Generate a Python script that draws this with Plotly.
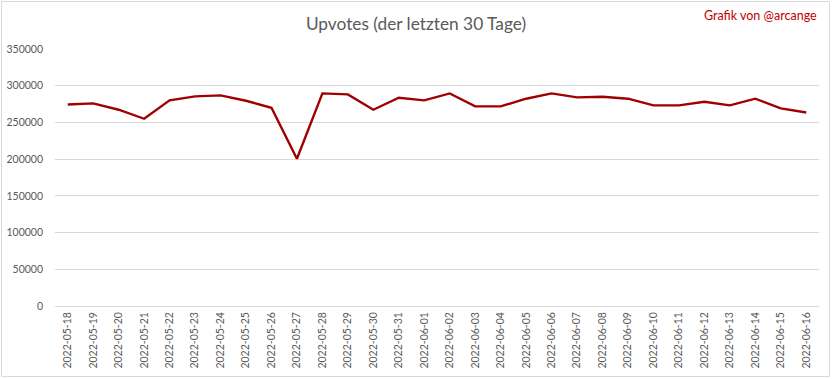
import plotly.graph_objects as go

dates = ["2022-05-18", "2022-05-19", "2022-05-20", "2022-05-21", "2022-05-22", "2022-05-23",
         "2022-05-24", "2022-05-25", "2022-05-26", "2022-05-27", "2022-05-28", "2022-05-29",
         "2022-05-30", "2022-05-31", "2022-06-01", "2022-06-02", "2022-06-03", "2022-06-04",
         "2022-06-05", "2022-06-06", "2022-06-07", "2022-06-08", "2022-06-09", "2022-06-10",
         "2022-06-11", "2022-06-12", "2022-06-13", "2022-06-14", "2022-06-15", "2022-06-16"]
upvotes = [274500, 275900, 267300, 255000, 280000, 285500,
           286800, 279500, 270000, 200500, 289500, 288200,
           267300, 283600, 280000, 289500, 271800, 271800,
           282300, 289500, 284100, 285000, 282300, 273200,
           273200, 278200, 273200, 282300, 269100, 263600]
y_ticks = [0, 50000, 100000, 150000, 200000, 250000, 300000, 350000]

W, H = 832, 379
ml, mr, mt, mb = 55, 13, 49, 73
pw, ph = W - ml - mr, H - mt - mb

fig = go.Figure()
fig.add_trace(go.Scatter(x=dates, y=upvotes, mode="lines",
                         line=dict(color="#a00000", width=2.4), hoverinfo="x+y"))

font = "Lato, 'Open Sans', sans-serif"
fig.update_layout(
    width=W, height=H,
    margin=dict(l=ml, r=mr, t=mt, b=mb, pad=0, autoexpand=False),
    paper_bgcolor="white", plot_bgcolor="white",
    showlegend=False,
    font=dict(family=font, color="#595959", size=10),
    title=dict(text="Upvotes (der letzten 30 Tage)", x=416 / W, xanchor="center",
               y=1 - 24 / H, yanchor="middle",
               font=dict(size=17.3, color="#595959", family=font)),
    xaxis=dict(type="category", tickangle=-90, showgrid=False, zeroline=False,
               showline=False, ticks="", tickfont=dict(size=10.5, color="#595959"),
               automargin=False, ticklabelstandoff=3,
               range=[-0.5, len(dates) - 0.5]),
    yaxis=dict(range=[0, 350000], tickvals=y_ticks, ticktext=[str(v) for v in y_ticks],
               showgrid=True, gridcolor="#d9d9d9", gridwidth=1, zeroline=True,
               zerolinecolor="#d9d9d9", zerolinewidth=1, showline=False, ticks="",
               ticklabelstandoff=11, automargin=False,
               tickfont=dict(size=10.5, color="#595959")),
    annotations=[dict(text="Grafik von @arcange", xref="paper", yref="paper",
                      x=(819 - ml) / pw, y=(H - mb - 15) / ph, xanchor="right",
                      yanchor="middle", showarrow=False,
                      font=dict(size=12.5, color="#c00000", family=font))],
    shapes=[dict(type="rect", xref="paper", yref="paper",
                 x0=(1.5 - ml) / pw, x1=(W - 2.5 - ml) / pw,
                 y0=(H - mb - (H - 2.5)) / ph, y1=(H - mb - 1.5) / ph,
                 line=dict(color="#d9d9d9", width=1), layer="below")],
)
fig.write_html("out.html", config={"displayModeBar": False},
               post_script="document.body.style.margin='0';")
